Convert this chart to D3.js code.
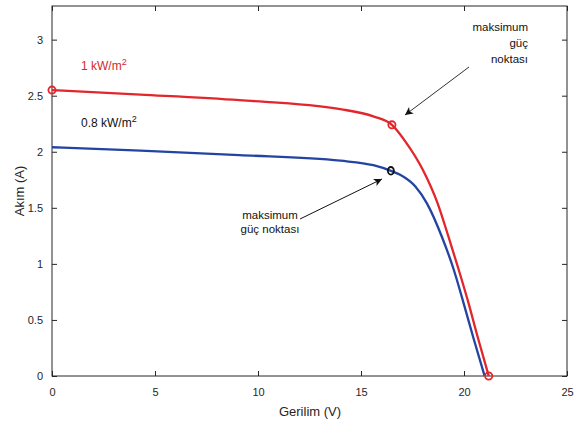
<!DOCTYPE html>
<html>
<head>
<meta charset="utf-8">
<script src="https://cdn.jsdelivr.net/npm/d3@7"></script>
<style>
  body { margin: 0; background: #fff; }
  svg text { font-family: "Liberation Sans", Arial, sans-serif; }
</style>
</head>
<body>
<div id="chart"></div>
<script>
(function() {
  var width = 574,
      height = 423;

  // values
  var xTicks = [0, 5, 10, 15, 20, 25];
  var yTicks = [0, 0.5, 1, 1.5, 2, 2.5, 3];

  var redV = [0, 4.3, 9.1, 14.0, 15.6, 16.5, 17.2, 18.0, 18.72, 19.25, 19.74, 20.22, 20.66, 21.2];
  var redI = [2.55, 2.51, 2.46, 2.38, 2.315, 2.24, 2.08, 1.84, 1.54, 1.24, 0.95, 0.65, 0.35, 0];

  var blueV = [0, 4.3, 9.1, 14.0, 15.6, 16.45, 16.9, 17.64, 18.2, 18.93, 19.5, 19.98, 20.44, 21.0];
  var blueI = [2.04, 2.01, 1.97, 1.92, 1.88, 1.83, 1.795, 1.69, 1.54, 1.24, 0.95, 0.65, 0.35, 0];

  var redMarks = [[0, 2.55], [16.5, 2.24], [21.2, 0]];
  var blackMarks = [[16.45, 1.83]];

  var margin = {top: 6, right: 7, bottom: 47, left: 52};
  var w = width - margin.left - margin.right,
      h = height - margin.top - margin.bottom;

  var svg = d3.select("#chart")
    .append("svg")
    .attr("width", width)
    .attr("height", height);

  var defs = svg.append("defs");
  defs.append("marker")
    .attr("id", "head")
    .attr("markerUnits", "userSpaceOnUse")
    .attr("viewBox", "0 0 10 10")
    .attr("refX", 10)
    .attr("refY", 5)
    .attr("markerWidth", 11)
    .attr("markerHeight", 8)
    .attr("orient", "auto")
    .append("path")
    .attr("d", "M0,0 L10,5 L0,10 L2.5,5 Z")
    .attr("fill", "#111");

  var g = svg.append("g")
    .attr("transform", "translate(" + margin.left + "," + margin.top + ")");

  var x = d3.scaleLinear().domain([0, 25]).range([0, w]);
  var y = d3.scaleLinear().domain([0, 3.3]).range([h, 0]);

  var axisColor = "#262626";
  var fmt = function(d) { return String(d); };

  function styleAxis(sel) {
    sel.select(".domain").remove();
    sel.selectAll("line").attr("stroke", axisColor);
    sel.selectAll("text")
      .attr("fill", axisColor)
      .style("font-size", "11px");
  }

  g.append("g")
    .attr("transform", "translate(0," + h + ")")
    .call(d3.axisBottom(x).tickValues(xTicks).tickFormat(fmt).tickSizeInner(-5).tickSizeOuter(0).tickPadding(12))
    .call(styleAxis);

  g.append("g")
    .call(d3.axisTop(x).tickValues(xTicks).tickSizeInner(-5).tickSizeOuter(0).tickFormat(""))
    .call(styleAxis);

  g.append("g")
    .call(d3.axisLeft(y).tickValues(yTicks).tickFormat(fmt).tickSizeInner(-5).tickSizeOuter(0).tickPadding(9))
    .call(styleAxis);

  g.append("g")
    .attr("transform", "translate(" + w + ",0)")
    .call(d3.axisRight(y).tickValues(yTicks).tickSizeInner(-5).tickSizeOuter(0).tickFormat(""))
    .call(styleAxis);

  g.append("rect")
    .attr("width", w)
    .attr("height", h)
    .attr("fill", "none")
    .attr("stroke", axisColor)
    .attr("stroke-width", 1);

  var line = d3.line()
    .x(function(d) { return x(d[0]); })
    .y(function(d) { return y(d[1]); })
    .curve(d3.curveMonotoneX);

  var blue = d3.zip(blueV, blueI);
  var red = d3.zip(redV, redI);

  g.append("path")
    .datum(blue)
    .attr("d", line)
    .attr("fill", "none")
    .attr("stroke", "#2444a2")
    .attr("stroke-width", 2.3);

  g.append("path")
    .datum(red)
    .attr("d", line)
    .attr("fill", "none")
    .attr("stroke", "#e3262c")
    .attr("stroke-width", 2.3);

  g.selectAll(".redmark")
    .data(redMarks)
    .enter().append("circle")
    .attr("class", "redmark")
    .attr("cx", function(d) { return x(d[0]); })
    .attr("cy", function(d) { return y(d[1]); })
    .attr("r", 3.6)
    .attr("fill", "none")
    .attr("stroke", "#e3262c")
    .attr("stroke-width", 1.8);

  g.selectAll(".blackmark")
    .data(blackMarks)
    .enter().append("ellipse")
    .attr("class", "blackmark")
    .attr("cx", function(d) { return x(d[0]); })
    .attr("cy", function(d) { return y(d[1]); })
    .attr("rx", 3)
    .attr("ry", 3.8)
    .attr("fill", "none")
    .attr("stroke", "#111")
    .attr("stroke-width", 1.8);

  // axis titles
  svg.append("text")
    .attr("x", 310)
    .attr("y", 416)
    .attr("text-anchor", "middle")
    .attr("fill", axisColor)
    .style("font-size", "13px")
    .text("Gerilim (V)");

  svg.append("text")
    .attr("transform", "translate(24,191) rotate(-90)")
    .attr("text-anchor", "middle")
    .attr("fill", axisColor)
    .style("font-size", "13px")
    .text("Akım (A)");

  // irradiance labels
  var t1 = svg.append("text")
    .attr("x", 81)
    .attr("y", 70)
    .attr("fill", "#d6282c")
    .style("font-size", "12px");
  t1.append("tspan").text("1 kW/m");
  t1.append("tspan").attr("dy", -5).style("font-size", "9px").text("2");

  var t2 = svg.append("text")
    .attr("x", 81)
    .attr("y", 127)
    .attr("fill", "#111")
    .style("font-size", "12px");
  t2.append("tspan").text("0.8 kW/m");
  t2.append("tspan").attr("dy", -5).style("font-size", "9px").text("2");

  // annotations
  var upper = ["maksimum", "güç", "noktası"];
  svg.selectAll(".ann1")
    .data(upper)
    .enter().append("text")
    .attr("class", "ann1")
    .attr("x", 528)
    .attr("y", function(d, i) { return 31 + i * 16; })
    .attr("text-anchor", "end")
    .attr("fill", "#111")
    .style("font-size", "11.5px")
    .text(function(d) { return d; });

  var lower = ["maksimum", "güç noktası"];
  svg.selectAll(".ann2")
    .data(lower)
    .enter().append("text")
    .attr("class", "ann2")
    .attr("x", 270)
    .attr("y", function(d, i) { return 219 + i * 14; })
    .attr("text-anchor", "middle")
    .attr("fill", "#111")
    .style("font-size", "11.5px")
    .text(function(d) { return d; });

  svg.append("line")
    .attr("x1", 469).attr("y1", 67)
    .attr("x2", 405).attr("y2", 115)
    .attr("stroke", "#333")
    .attr("stroke-width", 1)
    .attr("marker-end", "url(#head)");

  svg.append("line")
    .attr("x1", 300).attr("y1", 219)
    .attr("x2", 382).attr("y2", 179)
    .attr("stroke", "#111")
    .attr("stroke-width", 1)
    .attr("marker-end", "url(#head)");
})();
</script>
</body>
</html>
